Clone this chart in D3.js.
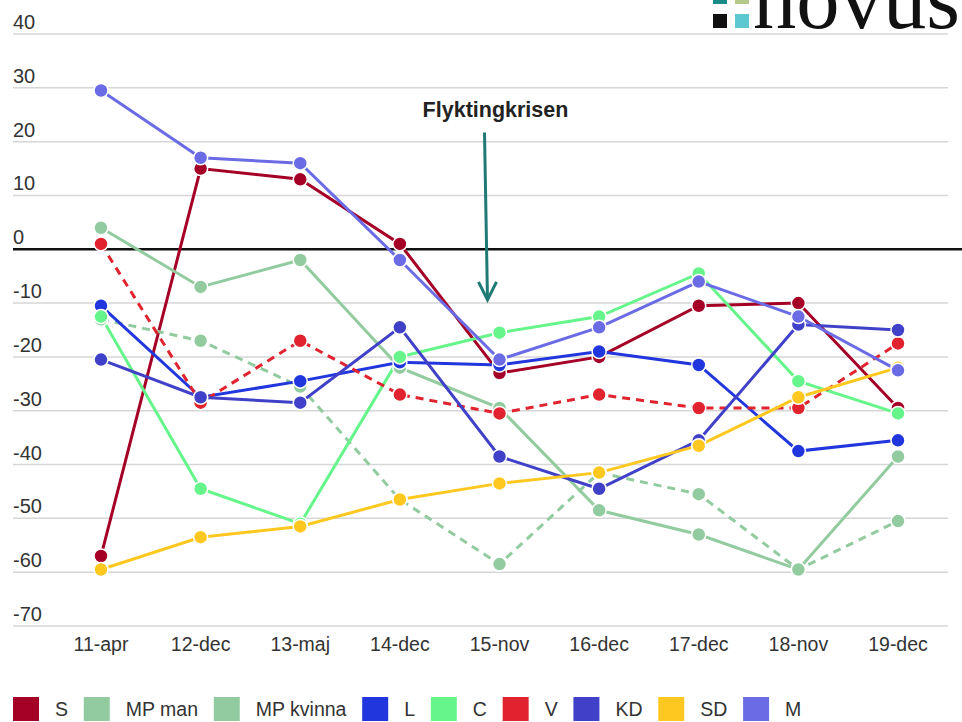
<!DOCTYPE html>
<html>
<head>
<meta charset="utf-8">
<script src="https://cdn.jsdelivr.net/npm/d3@7"></script>
<style>
  body { margin: 0; background: #fff; }
  svg { display: block; font-family: "Liberation Sans", Arial, sans-serif; }
</style>
</head>
<body>
<div id="chart"></div>
<script>
// survey dates
const dates = ["11-apr", "12-dec", "13-maj", "14-dec", "15-nov", "16-dec", "17-dec", "18-nov", "19-dec"];
const yTicks = [40, 30, 20, 10, 0, -10, -20, -30, -40, -50, -60, -70];

// net values per party
const S         = [-57, 15, 13, 1, -23, -20, -10.5, -10, -29.5];
const MPman     = [4, -7, -2, -22, -29.5, -48.5, -53, -59.5, -38.5];
const MPkvinna  = [-13, -17, -25.5, -46.5, -58.5, -41.5, -45.5, -59.5, -50.5];
const L         = [-10.5, -27.5, -24.5, -21, -21.5, -19, -21.5, -37.5, -35.5];
const C         = [-12.5, -44.5, -51, -20, -15.5, -12.5, -4.5, -24.5, -30.5];
const V         = [1, -28.5, -17, -27, -30.5, -27, -29.5, -29.5, -17.5];
const KD        = [-20.5, -27.5, -28.5, -14.5, -38.5, -44.5, -35.5, -14, -15];
const SD        = [-59.5, -53.5, -51.5, -46.5, -43.5, -41.5, -36.5, -27.5, -22];
const M         = [29.5, 17, 16, -2, -20.5, -14.5, -6, -12.5, -22.5];

const series = [
    {name: "S", values: S, color: "#a50026", dashed: false},
    {name: "MP man", values: MPman, color: "#93cba0", dashed: false},
    {name: "MP kvinna", values: MPkvinna, color: "#93cba0", dashed: true},
    {name: "L", values: L, color: "#2236de", dashed: false},
    {name: "C", values: C, color: "#66f58a", dashed: false},
    {name: "V", values: V, color: "#e0232e", dashed: true},
    {name: "KD", values: KD, color: "#4040c8", dashed: false},
    {name: "SD", values: SD, color: "#ffc820", dashed: false},
    {name: "M", values: M, color: "#6b6be6", dashed: false}
];

const width = 962, height = 722;

const svg = d3.select("#chart").append("svg")
    .attr("width", width)
    .attr("height", height);

// scales
const x = d3.scalePoint().domain(dates).range([101, 898]);
const y = d3.scaleLinear().domain([-70, 40]).range([626, 34]);

// gridlines + y labels
const grid = svg.append("g");
grid.selectAll("line")
    .data(yTicks.filter(d => d !== 0))
    .enter().append("line")
    .attr("x1", 13).attr("x2", 948)
    .attr("y1", d => y(d)).attr("y2", d => y(d))
    .attr("stroke", "#d6d6d6")
    .attr("stroke-width", 1.5);

grid.selectAll("text")
    .data(yTicks)
    .enter().append("text")
    .attr("x", 13)
    .attr("y", d => y(d) - 5)
    .attr("fill", "#333")
    .style("font-size", "20px")
    .text(d => d);

// zero line
svg.append("line")
    .attr("x1", 13).attr("x2", width)
    .attr("y1", y(0)).attr("y2", y(0))
    .attr("stroke", "#111")
    .attr("stroke-width", 2.5);

// x labels
svg.append("g").selectAll("text")
    .data(dates)
    .enter().append("text")
    .attr("x", d => x(d))
    .attr("y", 651)
    .attr("text-anchor", "middle")
    .attr("fill", "#333")
    .style("font-size", "19.5px")
    .text(d => d);

// lines
const line = d3.line()
    .x((d, i) => x(dates[i]))
    .y(d => y(d));

series.forEach(s => {
    svg.append("path")
        .datum(s.values)
        .attr("d", line)
        .attr("fill", "none")
        .attr("stroke", s.color)
        .attr("stroke-width", 3)
        .attr("stroke-dasharray", s.dashed ? "8,6" : null);
});

// dots
series.forEach(s => {
    svg.append("g").selectAll("circle")
        .data(s.values)
        .enter().append("circle")
        .attr("cx", (d, i) => x(dates[i]))
        .attr("cy", d => y(d))
        .attr("r", 7)
        .attr("fill", s.color)
        .attr("stroke", "#fff")
        .attr("stroke-width", 1.5);
});

// annotation
const ax = x("15-nov") - 12;
svg.append("text")
    .attr("x", ax + 8)
    .attr("y", y(24.6))
    .attr("text-anchor", "middle")
    .attr("fill", "#222")
    .style("font-size", "21.5px")
    .style("font-weight", "bold")
    .text("Flyktingkrisen");

svg.append("line")
    .attr("x1", ax - 3).attr("y1", y(21.7))
    .attr("x2", ax).attr("y2", y(-9.4))
    .attr("stroke", "#1f7a75")
    .attr("stroke-width", 3);
svg.append("path")
    .attr("d", "M" + (ax - 9) + "," + (y(-9.4) - 18) + "L" + ax + "," + y(-9.4) + "L" + (ax + 9) + "," + (y(-9.4) - 18))
    .attr("fill", "none")
    .attr("stroke", "#1f7a75")
    .attr("stroke-width", 3);

// legend
const legend = svg.append("g");
let lx = 13;
series.forEach(s => {
    legend.append("rect")
        .attr("x", lx).attr("y", 697)
        .attr("width", 26).attr("height", 24)
        .attr("fill", s.color);
    const t = legend.append("text")
        .attr("x", lx + 42)
        .attr("y", 716)
        .attr("fill", "#333")
        .style("font-size", "19.5px")
        .text(s.name);
    lx += 42 + t.node().getComputedTextLength() + 15.75;
});

// novus logo (cut at top)
const logo = svg.append("g");
logo.append("rect").attr("x", 713).attr("y", -10).attr("width", 14).attr("height", 14).attr("fill", "#1a8a86");
logo.append("rect").attr("x", 735).attr("y", -10).attr("width", 14).attr("height", 14).attr("fill", "#b5c98a");
logo.append("rect").attr("x", 713).attr("y", 14).attr("width", 14).attr("height", 14).attr("fill", "#111");
logo.append("rect").attr("x", 735).attr("y", 14).attr("width", 14).attr("height", 14).attr("fill", "#5ec8d0");
logo.append("text")
    .attr("x", 753).attr("y", 28)
    .attr("fill", "#111")
    .style("font-family", "'Liberation Serif', 'DejaVu Serif', serif")
    .style("font-size", "86px")
    .attr("textLength", 207)
    .attr("lengthAdjust", "spacingAndGlyphs")
    .text("novus");
</script>
</body>
</html>
